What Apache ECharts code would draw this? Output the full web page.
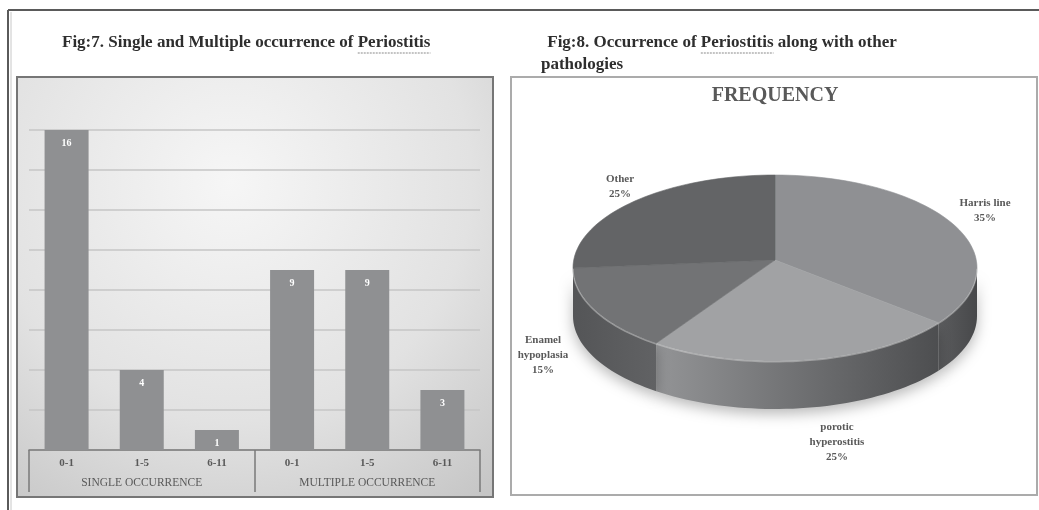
<!DOCTYPE html>
<html>
<head>
<meta charset="utf-8">
<script src="https://cdn.jsdelivr.net/npm/echarts@6/dist/echarts.min.js"></script>
<style>
  html, body { margin: 0; padding: 0; background: #ffffff; }
  #main { width: 1039px; height: 510px; }
</style>
</head>
<body>
<div id="main"></div>
<script>
// Fig 7: periostitis cases by age group, single vs multiple occurrence
const ageGroups = ['0-1', '1-5', '6-11', '0-1', '1-5', '6-11'];
const occurrenceGroups = ['SINGLE OCCURRENCE', 'MULTIPLE OCCURRENCE'];
const cases = [16, 4, 1, 9, 9, 3];

// Fig 8: pathologies found together with periostitis (percent)
const pathologies = ['Harris line', 'porotic hyperostitis', 'Enamel hypoplasia', 'Other'];
const pathologyShare = [35, 25, 15, 25];

// ---- layout / style ----
const SERIF = '"Liberation Serif", "DejaVu Serif", serif';
const TEXT_GREY = '#595959';

// tilted pie geometry (top ellipse, apex of the slices, wall depth)
const PIE = { cx: 775, cy: 268, apexY: 260, rx: 202, ry: 93, depth: 48 };
const pieTopColors = ['#8f9093', '#a1a2a4', '#727375', '#636466'];
const pieWallColors = [
  ['#5b5c5e', '#47484a'],
  ['#939496', '#4d4e50'],
  ['#545557', '#616264'],
  ['#505153', '#505153']
];
// label anchors, relative to the pie centre
const pieLabelAt = [[210, -57], [62, 174], [-232, 87], [-155, -81]];

function sliceAngles(i) {
  // degrees, clockwise from 12 o'clock
  const total = pathologyShare.reduce((s, v) => s + v, 0);
  let start = 0;
  for (let k = 0; k < i; k++) start += pathologyShare[k] / total * 360;
  return [start, start + pathologyShare[i] / total * 360];
}
function rimPoint(deg, drop) {
  const r = deg * Math.PI / 180;
  return [PIE.cx + PIE.rx * Math.sin(r), PIE.cy - PIE.ry * Math.cos(r) + (drop || 0)];
}
function arcPoints(a, b, drop) {
  const n = Math.max(8, Math.ceil(Math.abs(b - a) / 2));
  const pts = [];
  for (let k = 0; k <= n; k++) pts.push(rimPoint(a + (b - a) * k / n, drop));
  return pts;
}
function wrapName(name) {
  return name.length > 12 ? name.replace(' ', '\n') : name;
}

// measure title text so the spell-check underline sits under the right word
const measureCtx = document.createElement('canvas').getContext('2d');
function textWidth(str, font) { measureCtx.font = font; return measureCtx.measureText(str).width; }

const TITLE_FONT = 'bold 17px ' + SERIF;
const title7 = 'Fig:7. Single and Multiple occurrence of ';
const title8a = ' Fig:8. Occurrence of ';
const underlined = 'Periostitis';
const t7x = 62, t8x = 543;
const u7x = t7x + textWidth(title7, TITLE_FONT);
const u8x = t8x + textWidth(title8a, TITLE_FONT);
const uw = textWidth(underlined, TITLE_FONT);

const chart = echarts.init(document.getElementById('main'), null, { renderer: 'canvas' });

chart.setOption({
  animation: false,
  backgroundColor: '#ffffff',
  graphic: [
    // page frame
    { type: 'line', z: -20, shape: { x1: 8, y1: 10, x2: 1039, y2: 10 }, style: { stroke: '#5a5a5a', lineWidth: 2 } },
    { type: 'line', z: -20, shape: { x1: 8, y1: 10, x2: 8, y2: 510 }, style: { stroke: '#5a5a5a', lineWidth: 2 } },
    { type: 'line', z: -20, shape: { x1: 11, y1: 12, x2: 11, y2: 510 }, style: { stroke: '#c8c8c8', lineWidth: 1 } },
    // Fig 7 panel
    {
      type: 'rect', z: -10,
      shape: { x: 17, y: 77, width: 476, height: 420 },
      style: {
        fill: new echarts.graphic.RadialGradient(0.45, 0.25, 0.95, [
          { offset: 0, color: '#f6f6f6' },
          { offset: 0.6, color: '#e2e2e2' },
          { offset: 1, color: '#c6c6c6' }
        ]),
        stroke: '#767676', lineWidth: 2
      }
    },
    // Fig 8 panel
    {
      type: 'rect', z: -10,
      shape: { x: 511, y: 77, width: 526, height: 418 },
      style: { fill: '#ffffff', stroke: '#ababab', lineWidth: 2 }
    },
    // titles
    { type: 'text', z: 10, x: t7x, y: 43, style: { text: title7 + underlined, font: TITLE_FONT, fill: '#2e2e2e', verticalAlign: 'middle' } },
    { type: 'line', z: 10, shape: { x1: u7x, y1: 53, x2: u7x + uw, y2: 53 }, style: { stroke: '#8a8a8a', lineWidth: 1.2, lineDash: [2, 1] } },
    { type: 'text', z: 10, x: t8x, y: 43, style: { text: title8a + underlined + ' along with other', font: TITLE_FONT, fill: '#2e2e2e', verticalAlign: 'middle' } },
    { type: 'line', z: 10, shape: { x1: u8x, y1: 53, x2: u8x + uw, y2: 53 }, style: { stroke: '#8a8a8a', lineWidth: 1.2, lineDash: [2, 1] } },
    { type: 'text', z: 10, x: 541, y: 65, style: { text: 'pathologies', font: TITLE_FONT, fill: '#2e2e2e', verticalAlign: 'middle' } },
    { type: 'text', z: 10, x: 775, y: 96, style: { text: 'FREQUENCY', font: 'bold 20px ' + SERIF, fill: TEXT_GREY, align: 'center', verticalAlign: 'middle' } }
  ],
  grid: { left: 29, right: 559, top: 130, bottom: 60, containLabel: false },
  xAxis: [
    {
      type: 'category', gridIndex: 0, position: 'bottom', data: ageGroups,
      axisLine: { show: true, lineStyle: { color: '#7a7a7a', width: 1.5 } },
      axisTick: { show: false },
      axisLabel: { margin: 8, color: TEXT_GREY, fontFamily: SERIF, fontSize: 11, fontWeight: 'bold' }
    },
    {
      type: 'category', gridIndex: 0, position: 'bottom', data: occurrenceGroups,
      boundaryGap: true,
      axisLine: { show: false },
      axisTick: { show: true, length: 42, lineStyle: { color: '#7a7a7a', width: 1.5 } },
      axisLabel: { margin: 27, color: TEXT_GREY, fontFamily: SERIF, fontSize: 11.5 }
    }
  ],
  yAxis: {
    type: 'value', min: 0, max: 16, interval: 2,
    axisLine: { show: false }, axisTick: { show: false }, axisLabel: { show: false },
    splitLine: { lineStyle: { color: '#c6c6c6', width: 1.5 } }
  },
  series: [
    {
      type: 'bar', xAxisIndex: 0, yAxisIndex: 0, data: cases, barWidth: 44,
      itemStyle: { color: '#8f9092' },
      label: {
        show: true, position: 'insideTop', distance: 8,
        color: '#ffffff', fontFamily: SERIF, fontSize: 10, fontWeight: 'bold'
      }
    },
    {
      // outer walls of the tilted pie (front half only)
      type: 'custom', coordinateSystem: 'none', z: 3,
      data: pathologyShare.map((v, i) => ({ name: pathologies[i], value: v })),
      renderItem: function (params) {
        const i = params.dataIndex;
        const [a, b] = sliceAngles(i);
        const s = Math.max(a, 90), e = Math.min(b, 270);
        if (e <= s) return { type: 'group', children: [] };
        const pts = arcPoints(s, e, 0).concat(arcPoints(e, s, PIE.depth));
        return {
          type: 'polygon',
          shape: { points: pts },
          style: {
            fill: new echarts.graphic.LinearGradient(0, 0, 1, 0, [
              { offset: 0, color: pieWallColors[i][0] },
              { offset: 1, color: pieWallColors[i][1] }
            ]),
            shadowBlur: 14, shadowOffsetY: 5, shadowColor: 'rgba(0,0,0,0.28)'
          }
        };
      }
    },
    {
      // top faces of the slices with their labels
      type: 'custom', coordinateSystem: 'none', z: 4,
      data: pathologyShare.map((v, i) => ({ name: pathologies[i], value: v })),
      renderItem: function (params, api) {
        const i = params.dataIndex;
        const [a, b] = sliceAngles(i);
        const face = [[PIE.cx, PIE.apexY]].concat(arcPoints(a, b, 0));
        const children = [{
          type: 'polygon', shape: { points: face },
          style: { fill: pieTopColors[i], stroke: pieTopColors[i], lineWidth: 0.6 }
        }];
        const s = Math.max(a, 90), e = Math.min(b, 270);
        if (e > s) {
          children.push({
            type: 'polyline', shape: { points: arcPoints(s, e, 0.8) },
            style: { stroke: 'rgba(220,220,220,0.45)', lineWidth: 1.4, fill: null }
          });
        }
        children.push({
          type: 'text',
          x: PIE.cx + pieLabelAt[i][0], y: PIE.cy + pieLabelAt[i][1],
          style: {
            text: wrapName(pathologies[i]) + '\n' + api.value(0) + '%',
            font: 'bold 11px ' + SERIF, fill: TEXT_GREY, lineHeight: 15,
            align: 'center', verticalAlign: 'middle'
          }
        });
        return { type: 'group', children: children };
      }
    }
  ]
});
</script>
</body>
</html>
